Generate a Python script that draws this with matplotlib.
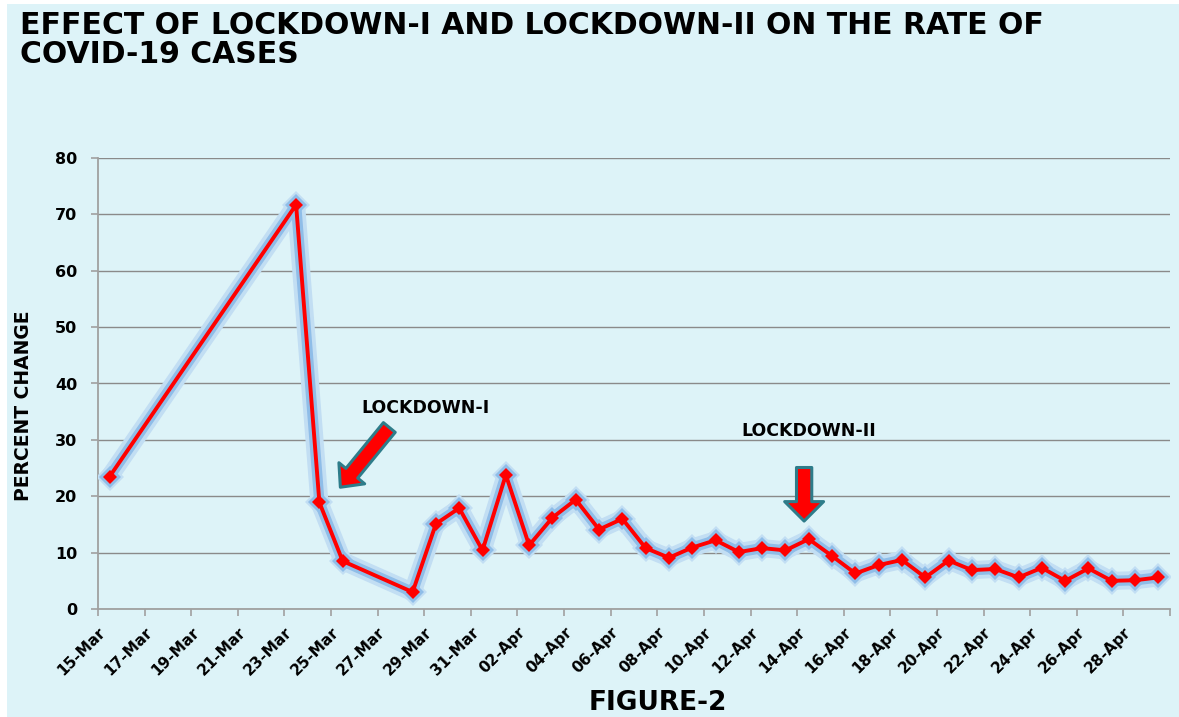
#!/usr/bin/python
""" Effect of lockdown-I and lockdown-II on the rate of covid-19 cases """
import matplotlib
matplotlib.use('Agg')
import matplotlib.pyplot as plt
import pandas as pd

dates = ['15-Mar', '23-Mar', '24-Mar', '25-Mar', '28-Mar', '29-Mar', '30-Mar',
         '31-Mar', '01-Apr', '02-Apr', '03-Apr', '04-Apr', '05-Apr', '06-Apr',
         '07-Apr', '08-Apr', '09-Apr', '10-Apr', '11-Apr', '12-Apr', '13-Apr',
         '14-Apr', '15-Apr', '16-Apr', '17-Apr', '18-Apr', '19-Apr', '20-Apr',
         '21-Apr', '22-Apr', '23-Apr', '24-Apr', '25-Apr', '26-Apr', '27-Apr',
         '28-Apr', '29-Apr']
pct_change = [23.5, 71.7, 18.9, 8.5, 3.0, 15.1, 17.9,
              10.4, 23.8, 11.3, 16.2, 19.4, 14.1, 16.0,
              10.8, 9.1, 10.9, 12.2, 10.1, 10.8, 10.4,
              12.4, 9.4, 6.3, 7.8, 8.7, 5.6, 8.6,
              6.9, 7.1, 5.6, 7.3, 5.0, 7.2, 5.0,
              5.1, 5.6]
y_ticks = [0, 10, 20, 30, 40, 50, 60, 70, 80]

BG = '#ddf3f8'
ARROW_EDGE = '#2e7c8a'


def to_date(s):
    return pd.to_datetime(s + '-2020', format='%d-%b-%Y')


x = [to_date(d) + pd.Timedelta(hours=12) for d in dates]

fig = plt.figure(figsize=(11.79, 7.17), dpi=100, facecolor='white')
bg = plt.Rectangle((7 / 1179, 0), 1, 1 - 4 / 717, transform=fig.transFigure,
                   facecolor=BG, edgecolor='none', zorder=-10)
fig.add_artist(bg)
ax = fig.add_axes([98 / 1179, 1 - 609 / 717, 1072 / 1179, 451 / 717])
ax.set_facecolor(BG)
ax.set_zorder(1)

start = to_date('15-Mar')
end = to_date('30-Apr')
ax.set_xlim(start, end)
ax.set_ylim(0, 80)
ax.set_yticks(y_ticks)

ticks = list(pd.date_range(start, end, freq='2D'))
ax.set_xticks(ticks)
ax.set_xticklabels([t.strftime('%d-%b') if t < end else '' for t in ticks],
                   rotation=45, ha='right', va='top', rotation_mode='anchor',
                   fontsize=11, fontweight='bold')
for lab in ax.get_yticklabels():
    lab.set_fontsize(11.5)
    lab.set_fontweight('bold')

ax.grid(axis='y', color='#8a8a8a', linewidth=1.0)
ax.set_axisbelow(True)
for side in ['top', 'right']:
    ax.spines[side].set_visible(False)
for side in ['left', 'bottom']:
    ax.spines[side].set_color('#a0a0a0')
    ax.spines[side].set_linewidth(1.3)
ax.tick_params(axis='both', colors='#a0a0a0', labelcolor='black', length=5,
               width=1.2)
ax.tick_params(axis='y', pad=10)
ax.tick_params(axis='x', pad=6)

# soft blue glow under the red line, then the line, then the markers
ax.plot(x, pct_change, color='#c2def3', linewidth=13, marker='D',
        markersize=14, markeredgewidth=0, solid_joinstyle='round',
        solid_capstyle='round', zorder=3)
ax.plot(x, pct_change, color='#8fbde8', linewidth=7.5, marker='D',
        markersize=11, markeredgewidth=0, solid_joinstyle='round',
        solid_capstyle='round', zorder=4)
ax.plot(x, pct_change, color='#ff0000', linewidth=2.8, zorder=5)
ax.plot(x, pct_change, linestyle='none', marker='D', markersize=7.5,
        color='#ff0000', markeredgewidth=0, zorder=6)

ax.set_ylabel('PERCENT CHANGE', fontsize=13.5, fontweight='bold')
ax.yaxis.set_label_coords(-0.061, 0.45)

# lockdown annotations
ax.annotate('', xy=(start + pd.Timedelta(days=10.4), 21.6),
            xytext=(start + pd.Timedelta(days=12.5), 32.2),
            arrowprops=dict(arrowstyle='simple,head_length=13,head_width=24,'
                                       'tail_width=11',
                            mutation_scale=1, fc='#ff0000', ec=ARROW_EDGE,
                            lw=2.2, shrinkA=0, shrinkB=0), zorder=6)
ax.text(start + pd.Timedelta(days=11.3), 35.6, 'LOCKDOWN-I', fontsize=12.5,
        fontweight='bold', ha='left', va='center')

ax.annotate('', xy=(start + pd.Timedelta(days=30.3), 15.6),
            xytext=(start + pd.Timedelta(days=30.3), 25.1),
            arrowprops=dict(arrowstyle='simple,head_length=14,head_width=28,'
                                       'tail_width=11',
                            mutation_scale=1, fc='#ff0000', ec=ARROW_EDGE,
                            lw=2.2, shrinkA=0, shrinkB=0), zorder=6)
ax.text(start + pd.Timedelta(days=27.6), 31.5, 'LOCKDOWN-II', fontsize=12.5,
        fontweight='bold', ha='left', va='center')

fig.text(20 / 1179, 1 - 11 / 717,
         'EFFECT OF LOCKDOWN-I AND LOCKDOWN-II ON THE RATE OF\nCOVID-19 CASES',
         fontsize=21.5, fontweight='bold', ha='left', va='top',
         linespacing=0.98)
fig.text(658 / 1179, 1 - 703 / 717, 'FIGURE-2', fontsize=19,
         fontweight='bold', ha='center', va='center')

plt.savefig('out.png', dpi=100, facecolor='white')
